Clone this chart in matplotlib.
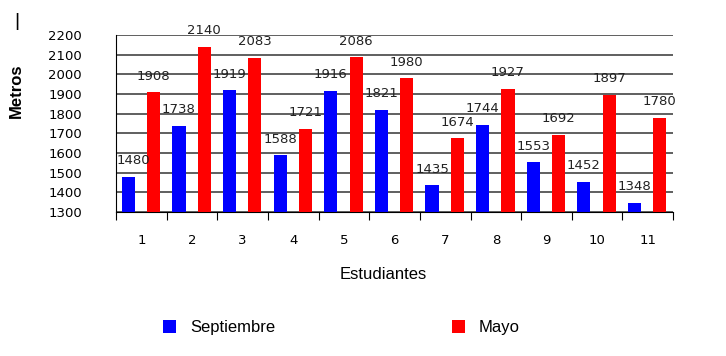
import numpy as np
import matplotlib.pyplot as plt

estudiantes = ['1', '2', '3', '4', '5', '6', '7', '8', '9', '10', '11']
septiembre = [1480, 1738, 1919, 1588, 1916, 1821, 1435, 1744, 1553, 1452, 1348]
mayo = [1908, 2140, 2083, 1721, 2086, 1980, 1674, 1927, 1692, 1897, 1780]

fig = plt.figure(figsize=(7.26, 3.56), dpi=100)
ax = fig.add_axes([0.16, 0.4045, 0.767, 0.4972])

x = np.arange(len(estudiantes))
w = 0.26
b1 = ax.bar(x - 0.26, np.array(septiembre) - 1300, w, bottom=1300,
            color='#0000ff', label='Septiembre', zorder=3)
b2 = ax.bar(x + 0.24, np.array(mayo) - 1300, w, bottom=1300,
            color='#ff0000', label='Mayo', zorder=3)

# value labels above the bars
for rects, vals in ((b1, septiembre), (b2, mayo)):
    for r, v in zip(rects, vals):
        cx = r.get_x() + r.get_width() / 2
        dx = 0
        if cx < 0:  # first label would cross the y axis
            dx = 4
        ax.annotate(str(v), (cx, v), xytext=(dx, 7), textcoords='offset points',
                    ha='center', va='bottom', fontsize=9.5,
                    color='#222222', clip_on=False, zorder=4)

ax.set_xlim(-0.5, len(estudiantes) - 0.5)
ax.set_ylim(1300, 2200)
ax.set_yticks(np.arange(1300, 2201, 100))
ax.yaxis.grid(True, color='#444444', lw=1.2, zorder=0)
ax.tick_params(axis='y', length=0, labelsize=9.5, pad=49)
for t in ax.get_yticklabels():
    t.set_horizontalalignment('left')

# category ticks at boundaries, labels in the middle
ax.set_xticks(np.arange(-0.5, len(estudiantes), 1.0))
ax.set_xticklabels([])
ax.set_xticks(x, minor=True)
ax.set_xticklabels(estudiantes, minor=True)
ax.tick_params(axis='x', which='major', length=6, direction='out', color='black')
ax.tick_params(axis='x', which='minor', length=0, labelsize=9.5, pad=16)

for s in ('top', 'right'):
    ax.spines[s].set_visible(False)
ax.spines['left'].set_color('black')
ax.spines['bottom'].set_color('black')

ax.set_ylabel('Metros', fontsize=12, family='Liberation Sans', fontweight='bold')
ax.yaxis.set_label_coords(-0.165, 0.686)
ax.set_xlabel('Estudiantes', fontsize=12, family='Liberation Sans')
ax.xaxis.set_label_coords(0.48, -0.31)

fig.legend(handles=[b1, b2], labels=['Septiembre', 'Mayo'], loc='center',
           bbox_to_anchor=(0.47, 0.08), ncol=2, frameon=False,
           prop={'family': 'Liberation Sans', 'size': 12},
           handlelength=0.8, handleheight=0.8, columnspacing=10.6)

fig.text(0.02, 0.94, '|', fontsize=14, family='Liberation Sans', va='center')

fig.savefig('out.png', dpi=100)
